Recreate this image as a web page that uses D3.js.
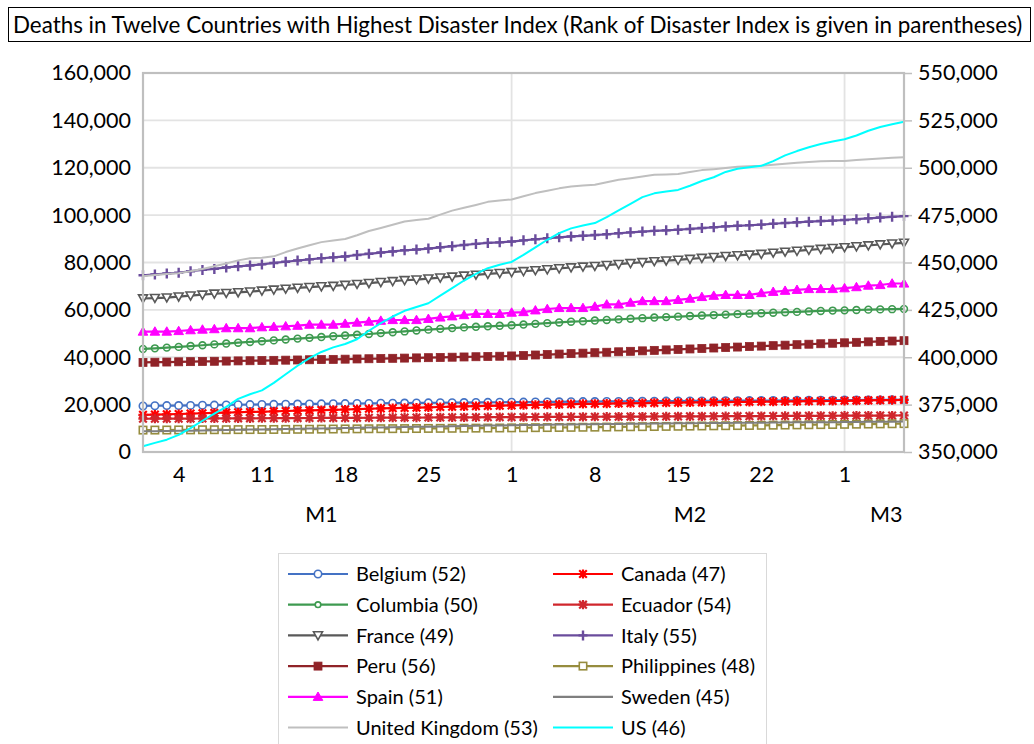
<!DOCTYPE html>
<html>
<head>
<meta charset="utf-8">
<script src="https://cdn.jsdelivr.net/npm/d3@7"></script>
<style>
  body { margin: 0; background: #fff; }
  text { font-family: Lato, "Open Sans", sans-serif; fill: #000; }
</style>
</head>
<body>
<svg id="chart" width="1034" height="744"></svg>
<script>
// ---- categories: one point per day ----
const firstDay = "2021-01-01";
const lastDay = "2021-03-06";
const dayTicks = ["2021-01-04", "2021-01-11", "2021-01-18", "2021-01-25", "2021-02-01",
                  "2021-02-08", "2021-02-15", "2021-02-22", "2021-03-01"];
const monthGridDays = ["2021-02-01", "2021-03-01"];
const monthLabels = ["M1", "M2", "M3"];
const monthLabelDays = ["2021-01-16", "2021-02-16", "2021-03-04T12:00"];
const leftTicks = [0, 20000, 40000, 60000, 80000, 100000, 120000, 140000, 160000];
const rightTicks = [350000, 375000, 400000, 425000, 450000, 475000, 500000, 525000, 550000];

// ---- cumulative deaths per country ----
const belgium = [19441, 19528, 19581, 19619, 19681, 19746, 19813, 19883, 19952, 20012,
  20075, 20134, 20189, 20242, 20287, 20336, 20396, 20435, 20482, 20526,
  20572, 20620, 20666, 20706, 20750, 20793, 20839, 20879, 20930, 20964, 21002,
  21040, 21081, 21118, 21160, 21198, 21234, 21268, 21300, 21333, 21366,
  21398, 21430, 21460, 21490, 21520, 21548, 21578, 21607, 21635, 21663,
  21690, 21718, 21747, 21776, 21804, 21832, 21860, 21889,
  21917, 21946, 21975, 22004, 22034, 22063];
const canada = [15700, 15800, 15900, 16050, 16200, 16350, 16500, 16650, 16790, 16900,
  17000, 17150, 17300, 17450, 17600, 17720, 17820, 17950, 18100, 18250,
  18400, 18530, 18620, 18710, 18850, 18990, 19120, 19250, 19370, 19470, 19560,
  19680, 19800, 19910, 20020, 20120, 20210, 20280, 20350, 20430, 20510,
  20590, 20660, 20730, 20790, 20850, 20910, 20970, 21030, 21090, 21140,
  21190, 21240, 21290, 21340, 21390, 21440, 21490, 21540,
  21620, 21700, 21780, 21860, 21940, 22020];
const columbia = [43495, 43765, 44070, 44371, 44723, 45067, 45431, 45784, 46139, 46451,
  46782, 47124, 47491, 47868, 48200, 48523, 48892, 49156, 49473, 49819,
  50186, 50546, 50909, 51321, 51652, 51980, 52304, 52601, 52857, 53075, 53284,
  53500, 53800, 54100, 54400, 54700, 55000, 55200, 55500, 55750, 56000,
  56250, 56500, 56750, 56950, 57150, 57400, 57600, 57800, 58000, 58200,
  58400, 58600, 58800, 59000, 59150, 59350, 59550, 59700,
  59800, 59950, 60100, 60200, 60300, 60400];
const ecuador = [14034, 14051, 14070, 14092, 14115, 14138, 14160, 14182, 14205, 14228,
  14252, 14274, 14296, 14320, 14343, 14366, 14388, 14410, 14433, 14456,
  14479, 14501, 14524, 14546, 14569, 14591, 14613, 14636, 14659, 14681, 14704,
  14725, 14746, 14767, 14788, 14810, 14831, 14852, 14873, 14894, 14915,
  14936, 14957, 14978, 15000, 15021, 15042, 15063, 15084, 15105, 15126,
  15147, 15168, 15189, 15210, 15231, 15252, 15273, 15294,
  15315, 15336, 15357, 15378, 15399, 15420];
const france = [64800, 65000, 65200, 65600, 66000, 66400, 66800, 67100, 67400, 67700,
  68100, 68500, 68900, 69300, 69600, 69900, 70100, 70500, 70900, 71300,
  71700, 72100, 72500, 72800, 73200, 73600, 74000, 74400, 74800, 75200, 75500,
  75900, 76300, 76700, 77100, 77500, 77900, 78200, 78500, 78900, 79300,
  79700, 80100, 80500, 80800, 81100, 81500, 81900, 82300, 82700, 83000,
  83300, 83600, 84100, 84500, 84900, 85300, 85700, 86100,
  86400, 86800, 87200, 87600, 88000, 88300];
const italy = [74621, 74985, 75332, 75680, 76329, 76877, 77291, 77911, 78394, 78755,
  79203, 79819, 80326, 80848, 81325, 81800, 82177, 82554, 83157, 83681,
  84202, 84674, 85162, 85461, 85881, 86422, 86889, 87381, 87858, 88279, 88516,
  88845, 89344, 89820, 90241, 90618, 91003, 91273, 91580, 91917, 92338,
  92729, 93045, 93356, 93577, 93835, 94171, 94540, 94887, 95235, 95486,
  95718, 95992, 96348, 96666, 96974, 97227, 97507, 97699,
  97945, 98288, 98635, 98974, 99271, 99578];
const peru = [37830, 37900, 37980, 38070, 38150, 38230, 38300, 38380, 38460, 38530,
  38610, 38690, 38770, 38850, 38940, 39020, 39100, 39190, 39280, 39370,
  39460, 39550, 39640, 39730, 39820, 39920, 40020, 40120, 40220, 40320, 40420,
  40550, 40750, 40950, 41150, 41350, 41540, 41730, 41920, 42110, 42300,
  42500, 42700, 42900, 43100, 43300, 43500, 43700, 43900, 44100, 44300,
  44500, 44700, 44900, 45100, 45300, 45500, 45700, 45900,
  46100, 46300, 46500, 46700, 46850, 47000];
const philippines = [9250, 9263, 9291, 9320, 9340, 9385, 9405, 9416, 9447, 9467,
  9482, 9515, 9540, 9578, 9610, 9646, 9697, 9739, 9773, 9809,
  9834, 9855, 9880, 9909, 9951, 9978, 10008, 10037, 10074, 10111, 10136,
  10190, 10237, 10273, 10318, 10352, 10400, 10448, 10491, 10536, 10596,
  10655, 10706, 10760, 10812, 10869, 10929, 10989, 11046, 11100, 11150,
  11200, 11260, 11320, 11380, 11440, 11500, 11560, 11620,
  11680, 11740, 11800, 11860, 11920, 11980];
const spain = [50837, 50837, 50837, 51078, 51430, 51690, 51874, 52275, 52275, 52275,
  52683, 52878, 53079, 53314, 53769, 53769, 53769, 54173, 54637, 55041,
  55441, 55728, 55728, 55728, 56208, 56799, 57291, 57806, 58319, 58319, 58319,
  58843, 59081, 59805, 60370, 60802, 60802, 60802, 61386, 62295, 62295,
  63061, 63704, 63704, 63704, 64217, 64747, 65449, 65979, 66316, 66316,
  66316, 67101, 67636, 68079, 68468, 68813, 68813, 68813,
  69142, 69609, 70247, 70501, 71138, 71138];
const sweden = [8727, 8780, 8840, 8920, 9010, 9100, 9190, 9280, 9370, 9450,
  9530, 9620, 9710, 9800, 9890, 9970, 10040, 10120, 10210, 10300,
  10390, 10470, 10540, 10610, 10700, 10790, 10880, 10970, 11060, 11140, 11220,
  11300, 11380, 11450, 11520, 11580, 11640, 11690, 11740, 11800, 11860,
  11920, 11970, 12010, 12050, 12090, 12140, 12190, 12240, 12280, 12320,
  12350, 12390, 12430, 12470, 12510, 12550, 12580, 12610,
  12650, 12690, 12730, 12770, 12810, 12850];
const unitedKingdom = [74200, 74700, 75100, 75500, 76300, 77300, 78400, 79600, 80900, 81800,
  82000, 82600, 84400, 85900, 87300, 88600, 89300, 89900, 91500, 93300,
  94600, 95900, 97300, 97900, 98500, 100200, 101900, 103100, 104300, 105600, 106200,
  106600, 108000, 109300, 110300, 111300, 112100, 112500, 112800, 113900, 114900,
  115600, 116300, 117000, 117200, 117400, 118200, 119000, 119400, 119900, 120400,
  120600, 120800, 121300, 121700, 122100, 122400, 122700, 122800,
  122900, 123300, 123600, 123900, 124200, 124400];
const us = [353000, 354800, 356500, 359000, 362600, 366500, 370300, 373800, 378000, 380500,
  382500, 386500, 391000, 395500, 399500, 402800, 405200, 407000, 409500, 414000,
  418000, 421500, 424500, 426500, 428500, 432500, 436500, 440500, 444000, 447000, 448800,
  450300, 454000, 458000, 462000, 465500, 468000, 469500, 470800, 474000, 477500,
  481000, 484500, 486500, 487500, 488300, 490500, 493000, 495000, 497800, 499500,
  500300, 501000, 503500, 506500, 508800, 510800, 512500, 513800,
  515000, 517000, 519500, 521500, 523000, 524300];

const titleText = "Deaths in Twelve Countries with Highest Disaster Index (Rank of Disaster Index is given in parentheses)";

// series in drawing / legend order
const series = [
  { name: "Belgium (52)", values: belgium, color: "#4472C4", marker: "circle" },
  { name: "Canada (47)", values: canada, color: "#FF0000", marker: "star" },
  { name: "Columbia (50)", values: columbia, color: "#3E9A50", marker: "ring" },
  { name: "Ecuador (54)", values: ecuador, color: "#D0262C", marker: "star" },
  { name: "France (49)", values: france, color: "#595959", marker: "triangleDown" },
  { name: "Italy (55)", values: italy, color: "#6A4C9C", marker: "plus" },
  { name: "Peru (56)", values: peru, color: "#902328", marker: "square" },
  { name: "Philippines (48)", values: philippines, color: "#968C3E", marker: "openSquare" },
  { name: "Spain (51)", values: spain, color: "#FF00FF", marker: "triangleUp" },
  { name: "Sweden (45)", values: sweden, color: "#7F7F7F", marker: null },
  { name: "United Kingdom (53)", values: unitedKingdom, color: "#BFBFBF", marker: null },
  { name: "US (46)", values: us, color: "#00FFFF", marker: null, secondary: true }
];

const parse = d3.isoParse;
const days = d3.timeDay.range(parse(firstDay), d3.timeDay.offset(parse(lastDay), 1));

const svg = d3.select("#chart");
const plot = { left: 143, right: 904, top: 73, bottom: 452 };
const axisFont = 21.5, legendFont = 20, titleFont = 22.4;

const x = d3.scaleTime().domain([parse(firstDay), parse(lastDay)]).range([plot.left, plot.right]);
const yLeft = d3.scaleLinear().domain([0, 160000]).range([plot.bottom, plot.top]);
const yRight = d3.scaleLinear().domain([350000, 550000]).range([plot.bottom, plot.top]);

// title box
svg.append("rect").attr("x", 8.5).attr("y", 7.5).attr("width", 1022).attr("height", 34)
  .attr("fill", "#fff").attr("stroke", "#000").attr("stroke-width", 1);
svg.append("text").attr("x", 13).attr("y", 32.5).attr("font-size", titleFont).text(titleText);

// gridlines
const grid = svg.append("g");
grid.selectAll("line.h").data(leftTicks.slice(1)).join("line")
  .attr("x1", plot.left).attr("x2", plot.right)
  .attr("y1", d => yLeft(d)).attr("y2", d => yLeft(d))
  .attr("stroke", "#e3e3e3").attr("stroke-width", 1.8);
grid.selectAll("line.v").data(monthGridDays).join("line")
  .attr("x1", d => x(parse(d))).attr("x2", d => x(parse(d)))
  .attr("y1", plot.top).attr("y2", plot.bottom)
  .attr("stroke", "#e3e3e3").attr("stroke-width", 1.8);

// axes
const fmt = d3.format(",");
const leftAxis = svg.append("g").attr("transform", `translate(${plot.left},0)`)
  .call(d3.axisLeft(yLeft).tickValues(leftTicks).tickFormat(fmt).tickSize(0).tickPadding(12));
const rightAxis = svg.append("g").attr("transform", `translate(${plot.right},0)`)
  .call(d3.axisRight(yRight).tickValues(rightTicks).tickFormat(fmt).tickSize(8).tickPadding(6));
const bottomAxis = svg.append("g").attr("transform", `translate(0,${plot.bottom})`)
  .call(d3.axisBottom(x).tickValues(dayTicks.map(parse)).tickFormat(d3.timeFormat("%-d")).tickSize(0).tickPadding(15));
[leftAxis, rightAxis, bottomAxis].forEach(g => {
  g.select(".domain").remove();
  g.selectAll("text").attr("font-size", axisFont).attr("font-family", "Lato, sans-serif").attr("fill", "#000");
  g.selectAll(".tick line").attr("stroke", "#bfbfbf").attr("stroke-width", 1.5);
});

svg.append("g").selectAll("text").data(monthLabels).join("text")
  .attr("x", (d, i) => x(parse(monthLabelDays[i])))
  .attr("y", 522)
  .attr("text-anchor", "middle").attr("font-size", axisFont)
  .text(d => d);

// marker shapes
function drawMarker(g, type, color, small) {
  switch (type) {
    case "circle":
      g.append("circle").attr("r", 3.7).attr("fill", "#fff").attr("stroke", color).attr("stroke-width", 1.6); break;
    case "ring":
      g.append("circle").attr("r", small ? 2.8 : 3.4).attr("fill", small ? "#fff" : "none").attr("stroke", color).attr("stroke-width", 1.6); break;
    case "triangleDown":
      g.append("path").attr("d", "M-4.5,-3.6L4.5,-3.6L0,4.4Z").attr("fill", "#fff").attr("stroke", color).attr("stroke-width", 1.6); break;
    case "triangleUp":
      g.append("path").attr("d", "M0,-4.8L4.8,3.6L-4.8,3.6Z").attr("fill", color).attr("stroke", color).attr("stroke-width", 1); break;
    case "square":
      g.append("rect").attr("x", -4).attr("y", -4).attr("width", 8).attr("height", 8).attr("fill", color).attr("stroke", color).attr("stroke-width", 0.8); break;
    case "openSquare":
      g.append("rect").attr("x", -3.7).attr("y", -3.7).attr("width", 7.4).attr("height", 7.4).attr("fill", "#fff").attr("stroke", color).attr("stroke-width", 1.6); break;
    case "plus":
      g.append("path").attr("d", "M-4.5,0H4.5M0,-5V5").attr("stroke", color).attr("stroke-width", 2.4).attr("fill", "none"); break;
    case "star":
      g.append("path").attr("d", "M-3.8,-3.8L3.8,3.8M-3.8,3.8L3.8,-3.8M0,-4.6V4.6M-4.6,0H4.6").attr("stroke", color).attr("stroke-width", 2.2).attr("fill", "none"); break;
  }
}

// series lines and markers
const seriesLayer = svg.append("g");
series.forEach(s => {
  const yScale = s.secondary ? yRight : yLeft;
  const line = d3.line().x((d, i) => x(days[i])).y(d => yScale(d));
  const g = seriesLayer.append("g");
  g.append("path").datum(s.values).attr("d", line)
    .attr("fill", "none").attr("stroke", s.color)
    .attr("stroke-width", s.marker ? 2.2 : 2).attr("stroke-linejoin", "round");
  if (s.marker) {
    s.values.forEach((v, i) => {
      const m = g.append("g").attr("transform", `translate(${x(days[i])},${yScale(v)})`);
      drawMarker(m, s.marker, s.color, false);
    });
  }
});

// plot area border
svg.append("rect").attr("x", plot.left).attr("y", plot.top)
  .attr("width", plot.right - plot.left).attr("height", plot.bottom - plot.top)
  .attr("fill", "none").attr("stroke", "#bfbfbf").attr("stroke-width", 2.2);

// legend
const legend = svg.append("g");
legend.append("rect").attr("x", 278.5).attr("y", 553.5).attr("width", 488).attr("height", 200)
  .attr("fill", "#fff").attr("stroke", "#d9d9d9").attr("stroke-width", 1);
const colX = [288, 553];
const rowY0 = 574, rowStep = 30.7;
series.forEach((s, i) => {
  const cx = colX[i % 2], cy = rowY0 + Math.floor(i / 2) * rowStep;
  const item = legend.append("g");
  item.append("line").attr("x1", cx).attr("x2", cx + 60).attr("y1", cy).attr("y2", cy)
    .attr("stroke", s.color).attr("stroke-width", 2.2);
  if (s.marker) {
    const m = item.append("g").attr("transform", `translate(${cx + 30},${cy})`);
    drawMarker(m, s.marker, s.color, true);
  }
  item.append("text").attr("x", cx + 68).attr("y", cy + 7.2).attr("font-size", legendFont).text(s.name);
});
</script>
</body>
</html>
